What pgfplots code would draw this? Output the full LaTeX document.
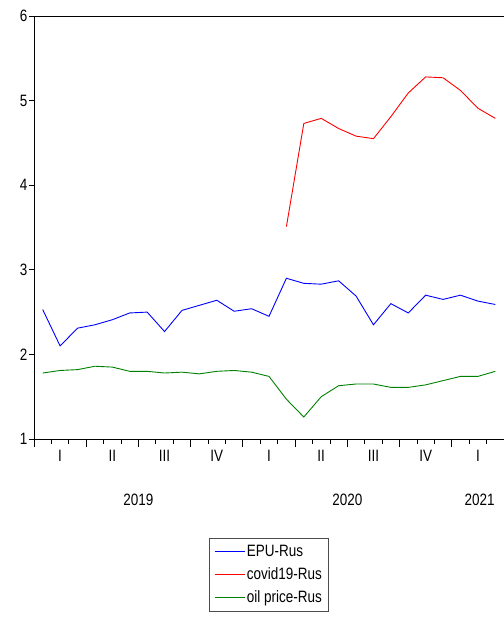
\documentclass[border=0pt]{standalone}
\usepackage{fontspec}
\setmainfont{Liberation Sans}[FakeStretch=0.82]
\usepackage{pgfplots}
\pgfplotsset{compat=1.18}
\definecolor{epu}{RGB}{0,0,255}
\definecolor{cov}{RGB}{255,0,0}
\definecolor{oil}{RGB}{0,128,0}
\newcommand{\lf}{\fontsize{16.5}{19}\selectfont}
\begin{document}
\lf
\begin{tikzpicture}
\begin{axis}[name=ax,
  scale only axis, width=470bp, height=423bp,
  xmin=0, xmax=27, ymin=1, ymax=6,
  axis x line*=bottom, axis y line*=left, axis line style={-, line width=0.9bp},
  clip=false,
  tick align=outside,
  major tick length=5bp, minor tick length=8bp,
  every tick/.style={black, line width=0.8bp},
  xtick={0,...,27}, minor xtick={0,3,...,27}, xticklabels={},
  extra x ticks={1.5,4.5,...,25.5},
  extra x tick labels={I,II,III,IV,I,II,III,IV,I},
  extra x tick style={major tick length=0pt, tick label style={yshift=-6bp}},
  ytick={1,...,6},
  yticklabel style={xshift=4bp},
  /pgf/number format/assume math mode=true,
  tick label style={font=\lf},
  legend style={at={(0.5,-0.234)}, anchor=north, draw=gray!60!black, line width=0.7bp,
    font=\lf, cells={anchor=west}, inner xsep=4.5bp, inner ysep=4bp,
    nodes={inner sep=2bp, text height=12bp, text depth=3bp}, row sep=4bp},
  legend image code/.code={\draw[#1, line width=0.9bp] (0bp,0bp) -- (30bp,0bp);},
  after end axis/.code={\draw[line width=0.9bp] (rel axis cs:0,1) -- (rel axis cs:1,1);},
]
\addplot[epu, line width=0.9bp] coordinates {
(0.5,2.53) (1.5,2.10) (2.5,2.31) (3.5,2.35) (4.5,2.41) (5.5,2.49) (6.5,2.50) (7.5,2.27) (8.5,2.52)
(9.5,2.58) (10.5,2.64) (11.5,2.51) (12.5,2.54) (13.5,2.45) (14.5,2.90) (15.5,2.84) (16.5,2.83)
(17.5,2.87) (18.5,2.69) (19.5,2.35) (20.5,2.60) (21.5,2.49) (22.5,2.70) (23.5,2.65) (24.5,2.70)
(25.5,2.63) (26.5,2.59)};
\addlegendentry{EPU-Rus}
\addplot[cov, line width=0.9bp] coordinates {
(14.5,3.51) (15.5,4.73) (16.5,4.79) (17.5,4.67) (18.5,4.58) (19.5,4.55) (20.5,4.81) (21.5,5.09)
(22.5,5.28) (23.5,5.27) (24.5,5.12) (25.5,4.91) (26.5,4.79)};
\addlegendentry{covid19-Rus}
\addplot[oil, line width=0.9bp] coordinates {
(0.5,1.78) (1.5,1.81) (2.5,1.82) (3.5,1.86) (4.5,1.85) (5.5,1.80) (6.5,1.80) (7.5,1.78) (8.5,1.79)
(9.5,1.77) (10.5,1.80) (11.5,1.81) (12.5,1.79) (13.5,1.74) (14.5,1.47) (15.5,1.26) (16.5,1.50)
(17.5,1.63) (18.5,1.65) (19.5,1.65) (20.5,1.61) (21.5,1.61) (22.5,1.64) (23.5,1.69) (24.5,1.74)
(25.5,1.74) (26.5,1.80)};
\addlegendentry{oil price-Rus}
\node[font=\lf] at ([yshift=-61bp]axis cs:6,1) {2019};
\node[font=\lf] at ([yshift=-61bp]axis cs:18,1) {2020};
\node[font=\lf] at ([yshift=-61bp]axis cs:25.6,1) {2021};
\end{axis}
\pgfresetboundingbox
\path[use as bounding box] ([xshift=-34bp,yshift=-178bp]ax.south west) rectangle ([yshift=16bp]ax.north east);
\end{tikzpicture}
\end{document}
